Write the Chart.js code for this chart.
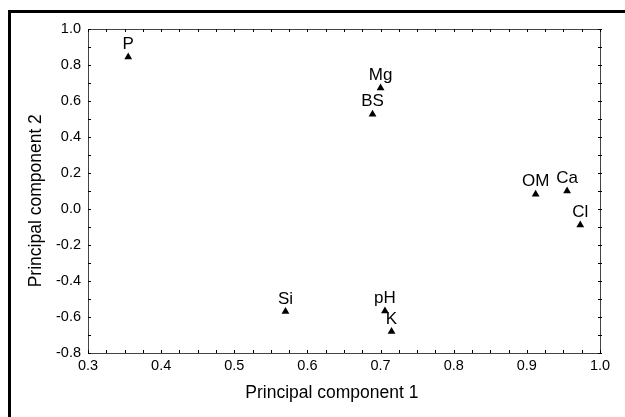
<!DOCTYPE html>
<html>
<head>
<meta charset="utf-8">
<script src="https://cdn.jsdelivr.net/npm/chart.js@4"></script>
<style>
  html, body { margin: 0; padding: 0; background: #fff; }
  #wrap { position: relative; width: 625px; height: 417px; }
  #frame { position: absolute; left: 8px; top: 10px; right: 0; bottom: 0;
           border-top: 3px solid #000; border-left: 3px solid #000; pointer-events: none; }
</style>
</head>
<body>
<div id="wrap">
  <canvas id="pcaChart" width="625" height="417"></canvas>
  <div id="frame"></div>
</div>
<script>
// variable names and loadings on the first two components
const varNames = ["P", "Mg", "BS", "OM", "Ca", "Cl", "Si", "pH", "K"];
const pc1 = [0.355, 0.700, 0.689, 0.912, 0.955, 0.973, 0.570, 0.706, 0.715];
const pc2 = [0.844, 0.672, 0.526, 0.082, 0.100, -0.089, -0.570, -0.567, -0.681];

// axis range / ticks
const xMin = 0.3, xMax = 1.0, xStep = 0.1, xMinor = 0.025;
const yMin = -0.8, yMax = 1.0, yStep = 0.2, yMinor = 0.1;

const font = "'Liberation Sans', Arial, sans-serif";

const points = varNames.map((n, i) => ({ x: pc1[i], y: pc2[i] }));

function fmt(v) {
  const s = Math.abs(v) < 1e-9 ? 0 : v;
  return s.toFixed(1);
}

// labels above each triangle + little inward ticks + box
const pcaExtras = {
  id: "pcaExtras",
  afterDatasetsDraw(chart) {
    const ctx = chart.ctx;
    const meta = chart.getDatasetMeta(0);
    ctx.save();
    ctx.fillStyle = "#000";
    ctx.font = "17px " + font;
    ctx.textAlign = "center";
    ctx.textBaseline = "alphabetic";
    meta.data.forEach((pt, i) => {
      ctx.fillText(varNames[i], pt.x, pt.y - 8);
    });
    ctx.restore();
  },
  afterDraw(chart) {
    const ctx = chart.ctx;
    const a = chart.chartArea;
    const xs = chart.scales.x, ys = chart.scales.y;
    ctx.save();
    ctx.strokeStyle = "#444";
    ctx.lineWidth = 1;
    ctx.beginPath();
    ctx.moveTo(a.left + 0.5, a.top + 0.5);
    ctx.lineTo(a.right + 0.5, a.top + 0.5);
    ctx.lineTo(a.right + 0.5, a.bottom + 0.5);
    ctx.stroke();
    ctx.strokeStyle = "#000";
    ctx.beginPath();
    for (let v = xMin; v <= xMax + 1e-9; v += xMinor) {
      const px = Math.round(xs.getPixelForValue(v)) + 0.5;
      ctx.moveTo(px, a.bottom); ctx.lineTo(px, a.bottom - 3);
      ctx.moveTo(px, a.top); ctx.lineTo(px, a.top + 3);
    }
    for (let v = yMin; v <= yMax + 1e-9; v += yMinor) {
      const py = Math.round(ys.getPixelForValue(v)) + 0.5;
      ctx.moveTo(a.left, py); ctx.lineTo(a.left + 3, py);
      ctx.moveTo(a.right - 2, py); ctx.lineTo(a.right + 2, py);
    }
    ctx.stroke();
    ctx.restore();
  }
};

new Chart(document.getElementById("pcaChart"), {
  type: "scatter",
  data: {
    datasets: [{
      data: points,
      pointStyle: "triangle",
      pointRadius: 4.5,
      pointBorderWidth: 0,
      backgroundColor: "#000",
      borderColor: "#000"
    }]
  },
  options: {
    responsive: false,
    animation: false,
    layout: { padding: { left: 11, right: 25, top: 29, bottom: 0 } },
    plugins: { legend: { display: false }, tooltip: { enabled: false } },
    scales: {
      x: {
        type: "linear",
        min: xMin, max: xMax,
        afterFit(s) { s.height = 64; },
        grid: { display: false, drawTicks: false },
        border: { display: true, color: "#444", width: 1 },
        ticks: {
          stepSize: xStep, padding: 4, color: "#000",
          font: { family: font, size: 14.5 },
          callback: v => fmt(v)
        },
        title: {
          // trailing spaces nudge the title left like in the original
          display: true, text: "Principal component 1     ", color: "#000",
          font: { family: font, size: 17.5 }, padding: { top: 13, bottom: 13 }
        }
      },
      y: {
        type: "linear",
        min: yMin, max: yMax,
        afterFit(s) { s.width = 77; },
        grid: { display: false, drawTicks: false },
        border: { display: true, color: "#444", width: 1 },
        ticks: {
          stepSize: yStep, padding: 7, color: "#000",
          font: { family: font, size: 14.5 },
          callback: v => fmt(v)
        },
        title: {
          display: true, text: "Principal component 2    ", color: "#000",
          font: { family: font, size: 17.5 }, padding: { top: 15, bottom: 15 }
        }
      }
    }
  },
  plugins: [pcaExtras]
});
</script>
</body>
</html>
